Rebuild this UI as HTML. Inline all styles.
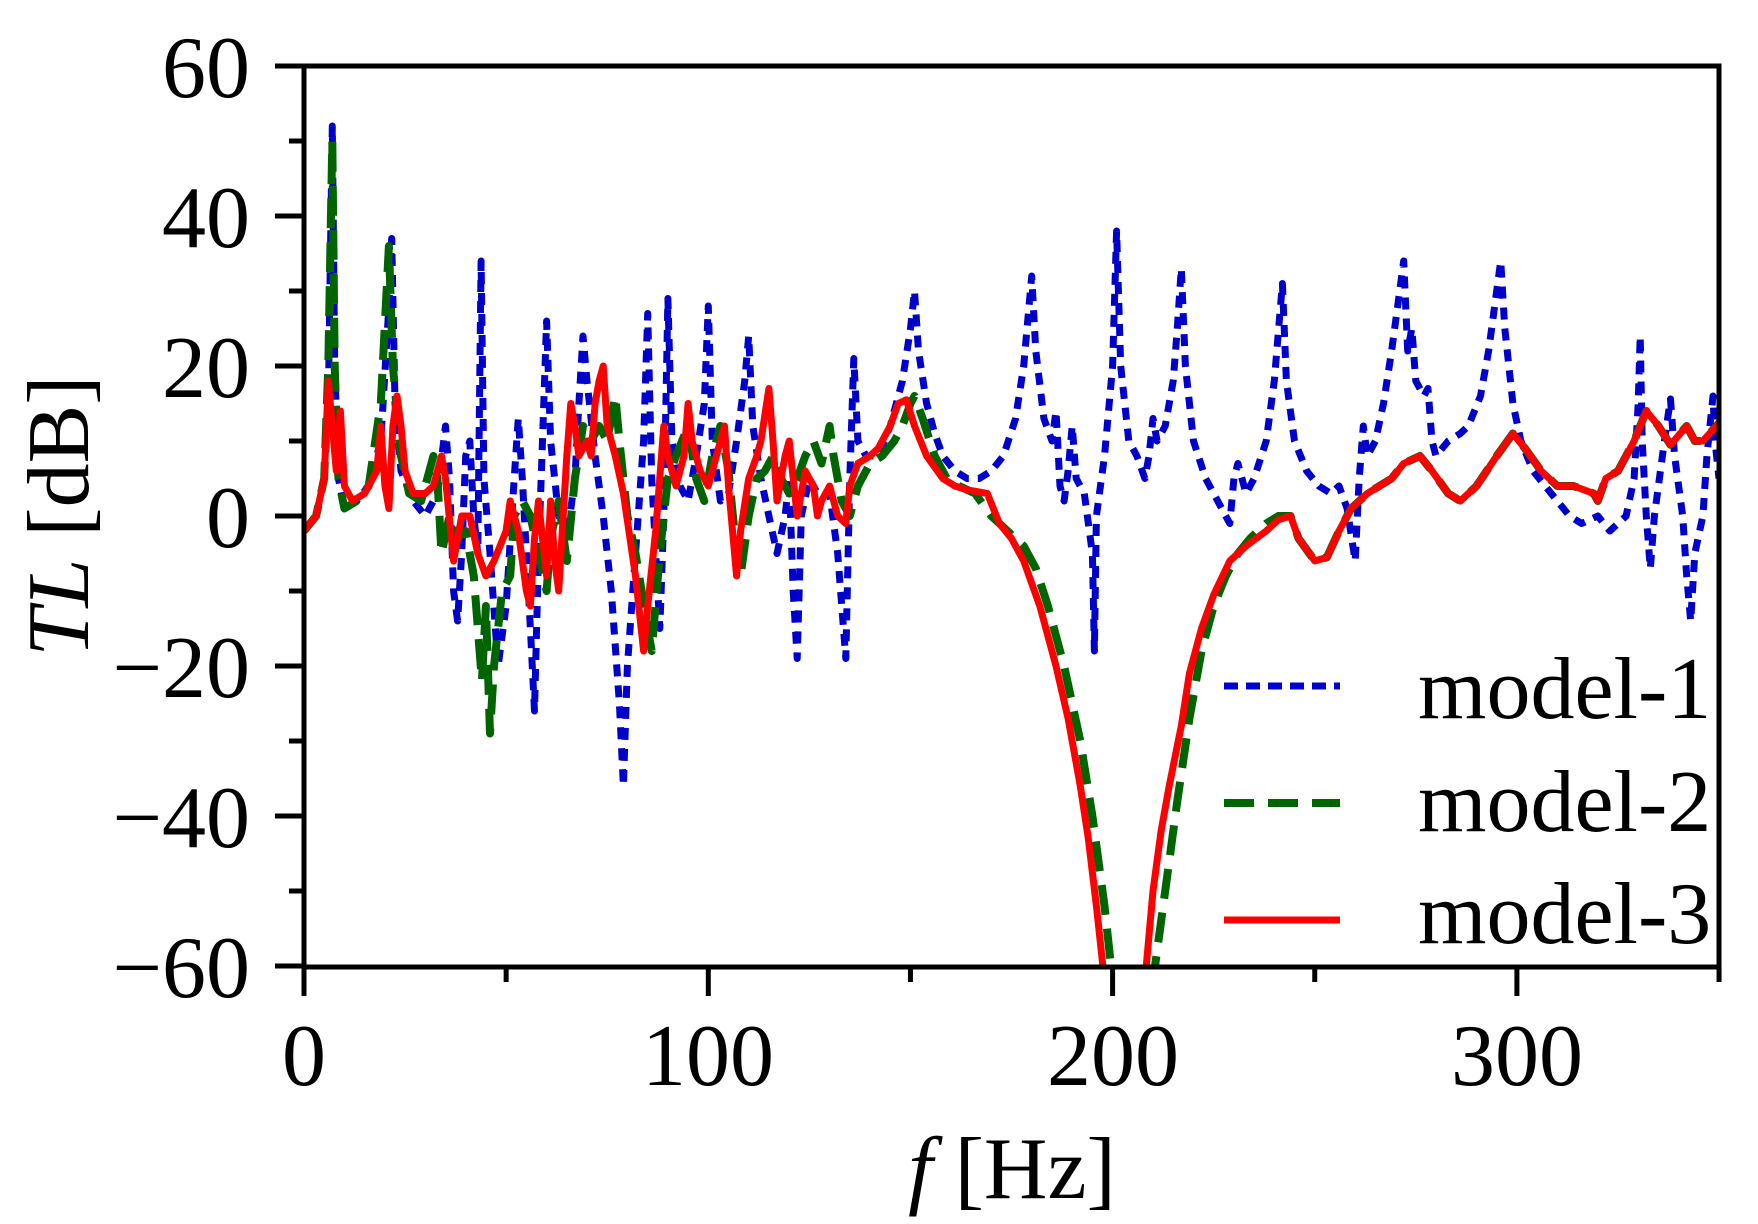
<!DOCTYPE html>
<html><head><meta charset="utf-8"><style>
html,body{margin:0;padding:0;background:#fff;}
svg{display:block;}
text{font-family:"Liberation Serif","Times New Roman",serif;fill:#000;}
</style></head><body>
<svg id="s" width="1758" height="1224" viewBox="0 0 1758 1224" xmlns="http://www.w3.org/2000/svg" font-family="Liberation Serif, Times New Roman, serif">
<defs><clipPath id="c"><rect x="304" y="66" width="1415" height="901"/></clipPath></defs>
<g id="series" clip-path="url(#c)"></g>
<rect x="304" y="66" width="1415" height="901" fill="none" stroke="#000" stroke-width="5"/>
<g id="ticks" stroke="#000" stroke-width="5"></g>
<g font-size="88" font-family="Liberation Serif, Times New Roman, serif">
<text x="250" y="97" text-anchor="end">60</text>
<text x="250" y="247" text-anchor="end">40</text>
<text x="250" y="397" text-anchor="end">20</text>
<text x="250" y="547" text-anchor="end">0</text>
<text x="250" y="697" text-anchor="end">−20</text>
<text x="250" y="847" text-anchor="end">−40</text>
<text x="250" y="997" text-anchor="end">−60</text>
<text x="304" y="1085" text-anchor="middle">0</text>
<text x="708" y="1085" text-anchor="middle">100</text>
<text x="1113" y="1085" text-anchor="middle">200</text>
<text x="1517" y="1085" text-anchor="middle">300</text>
<text x="1012" y="1198" text-anchor="middle"><tspan font-style="italic">f</tspan> [Hz]</text>
<text transform="translate(88,516) rotate(-90)" text-anchor="middle"><tspan font-style="italic">TL</tspan> [dB]</text>
<text x="1418" y="718">model-1</text>
<text x="1418" y="831">model-2</text>
<text x="1418" y="943">model-3</text>
</g>
<line x1="1224" y1="686" x2="1340" y2="686" stroke="#0000cc" stroke-width="7" stroke-dasharray="14 8"/>
<line x1="1224" y1="803" x2="1340" y2="803" stroke="#006400" stroke-width="8" stroke-dasharray="30 14"/>
<line x1="1224" y1="920" x2="1340" y2="920" stroke="#ff0000" stroke-width="7"/>
</svg>
<script>
const ns="http://www.w3.org/2000/svg";
function X(f){return 304+f*4.043;} function Y(d){return 516-d*7.5;}
const t=document.getElementById('ticks');
function ln(x1,y1,x2,y2){const l=document.createElementNS(ns,'line');l.setAttribute('x1',x1);l.setAttribute('y1',y1);l.setAttribute('x2',x2);l.setAttribute('y2',y2);t.appendChild(l);}
for(let d=-60;d<=60;d+=10){const y=Y(d);ln(304-((d%20==0)?29:15),y,304,y);}
for(let f=0;f<=350;f+=50){const x=X(f);ln(x,967,x,967+((f%100==0)?29:15));}
const blue=[0,-2,3,0,5,5,6,15,7,52,7.6,20,8.5,5,10,1,13,2,16,4,19,10,21,28,21.7,37,22.5,15,24,6,27,2,30,0,33,3,35,12,36,5,37,-10,38,-14,39,-5,40,8,41,10,42,0,43,-5,43.8,34,44.5,5,46,-5,48,-20,50,-12,52,5,53,13,54,5,56,-15,57,-26,58,-5,59,10,60,26,61,10,63,0,65,-3,67,5,68,15,69,24,70,18,72,8,74,0,76,-10,78,-25,79,-36,80,-20,82,-5,84,10,85,27,86,5,88,-15,89,0,90,29,91,10,93,4,95,2,97,8,99,15,100,28,101,10,103,2,105,3,107,10,109,18,110,24,111,12,113,5,115,0,117,-5,119,0,120,5,121,-10,122,-19,123,0,125,5,127,3,130,3,132,-5,134,-19,135,5,136,21,137,10,139,8,142,8,145,12,148,18,150,25,151,30,152,22,154,15,156,11,158,8,161,6,164,5,167,5,170,6,173,8,176,13,178,20,180,32,181,22,183,13,185,10,186,14,187,4,188,2,189,6,190,12,191,5,193,3,195,-5,195.5,-18,196,0,198,8,200,20,201,38,202,20,204,10,206,8,208,5,209,8,210,13,211,10,213,12,215,18,216,25,217,33,218,20,220,10,223,5,226,2,229,-1,230,5,231,7,233,3,235,5,238,10,240,18,242,31,243,18,245,10,248,6,251,4,254,3,256,4,258,1,260,-6,261,5,262,12,263,8,265,10,267,15,269,22,271,30,272,34,273,22,274,25,275,18,277,16,278,17,279,10,280,8,283,10,286,11,288,12,291,16,293,22,295,30,296,34,297,25,299,15,301,10,304,6,307,4,310,2,313,0,316,-1,320,0,323,-2,325,-1,327,0,329,5,330,15,330.5,24,331,10,332,0,333,-7,334,0,336,8,337,12,338,15.6,339,8,341,0,342,-8,343,-14,344,-5,346,0,347,8,348.5,16,349,10,350,5];
const tail=[246,-3,250,-6,253,-5.5,256,-2,259,1,263,3,269,5,272,7,276,8,279,6,283,3,286,2,290,4,295,8,299,11,302,9,306,6,310,4,314,4,319,3,320,2,322,5,325,6,329,10,332,14,335,12,338,9.5,342,12,344,10,346,10,351,13];
const green=[0,-2,3,0,5,5,6,20,7,50,7.6,20,8.5,5,10,1,13,2,16,4,19,15,21,36,22,20,24,8,26,3,29,2,32,8,33,5,34,-5,36,0,38,-3,40,-2,42,-8,44,-22,45,-12,46,-29,47,-20,49,-10,51,-8,52,0,54,2,56,0,58,-5,60,-10,61,-3,63,2,65,-6,67,5,69,12,71,10,73,12,75,10,77,16,78,10,80,0,82,-5,85,-15,86,-18,88,-5,90,5,92,8,95,12,97,5,99,2,101,8,103,12,105,6,107,-5,108,-8,110,0,112,5,114,6,116,8,118,5,120,3,122,5,124,8,126,10,128,7,130,12,131,8,133,2,135,0,137,4,140,7,143,8,146,10,148,12,150,15,151,16,153,13,156,8,159,5,162,4,166,3,170,0,174,-2,178,-4,181,-7,184,-12,188,-20,192,-30,195,-40,198,-52,200,-62,210,-62,213,-50,216,-38,219,-27,222,-18,225,-12,228,-8,231,-5,234,-3,238,-1,241,0,244,0].concat(tail);
const red=[0,-2,3,0,5,5,6,18,7,12,8,6,9,14,10,4,12,2,15,3,18,6,19,12,20,4,21,1,22,12,23,16,24,12,25,6,27,3,30,3,32,4,34,8,35,5,37,-6,39,0,41,0,43,-5,45,-8,47,-6,50,-2,51,2,53,-2,55,-10,56,-12,57,-3,58,2,59,-3,60,-8,61,2,62,-6,63,-10,65,8,66,15,67,12,68,8,70,10,71,8,72,15,73,18,74,20,75,12,77,8,79,3,82,-8,84,-18,85,-12,87,-2,89,12,90,8,92,4,94,8,95,15,96,10,98,6,100,4,102,8,104,12,105,4,107,-8,108,-2,110,5,112,8,113,10,115,17,116,10,117,2,119,8,120,10,121,5,122,0,124,6,126,4,127,0,128,2,130,4,132,0,134,-1,135,4,137,7,140,8,142,9,145,12,147,15,149,15.5,151,12,154,8,158,5,161,4,164,3.5,169,3,172,-1,175,-3,178,-6,182,-12,186,-20,189,-27,192,-36,194,-43,196,-52,198,-62,208,-62,210,-50,212,-42,214,-36,217,-28,219,-21,222,-15,225,-10.5,229,-6,233,-4,238,-2,241,-0.5,244,0].concat(tail);
const g=document.getElementById('series');
function draw(a,col,w,dash){let d='';for(let i=0;i<a.length;i+=2)d+=(i?'L':'M')+X(a[i]).toFixed(1)+' '+Y(a[i+1]).toFixed(1);const p=document.createElementNS(ns,'path');p.setAttribute('d',d);p.setAttribute('fill','none');p.setAttribute('stroke',col);p.setAttribute('stroke-width',w);p.setAttribute('stroke-linejoin','round');if(dash)p.setAttribute('stroke-dasharray',dash);g.appendChild(p);}
draw(blue,'#0000cc',7,'12 9');
draw(green,'#006400',8,'30 14');
draw(red,'#ff0000',7,null);
</script>
</body></html>
